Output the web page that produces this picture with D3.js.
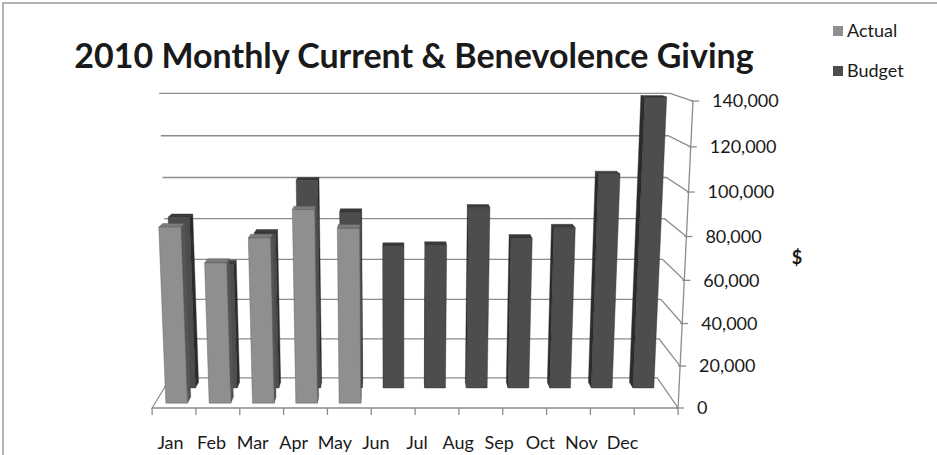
<!DOCTYPE html>
<html>
<head>
<meta charset="utf-8">
<script src="https://cdn.jsdelivr.net/npm/d3@7"></script>
<style>
  body { margin: 0; background: #fff; }
  text { font-family: Lato, "Open Sans", sans-serif; fill: #1a1a1a; }
</style>
</head>
<body>
<div id="chart"></div>
<script>
const months = ['Jan', 'Feb', 'Mar', 'Apr', 'May', 'Jun', 'Jul', 'Aug', 'Sep', 'Oct', 'Nov', 'Dec'];
const seriesNames = ['Actual', 'Budget'];
const actual = [83000, 66500, 78000, 91000, 82500];
const budget = [83500, 61000, 76000, 101000, 86000, 69500, 70000, 88000, 73500, 78500, 104000, 139500];
const valueTicks = [0, 20000, 40000, 60000, 80000, 100000, 120000, 140000];

const width = 937;
const height = 455;

const svg = d3.select('#chart')
  .append('svg')
  .attr('width', width)
  .attr('height', height);

// world space: X = category units, Y = thousands of $, Z = depth (0 front, 1 back wall)
const x = d3.scaleBand().domain(months).range([0, 12]).paddingInner(0.5).paddingOuter(0.25);
const y = d3.scaleLinear().domain([0, 140000]).range([0, 140]);
const z = d3.scaleBand().domain(seriesNames).range([0, 1]).paddingInner(0.6).paddingOuter(0.3);

// perspective camera, fitted by eye to the picture
const cam = { cx: 398, s: 43.83, xc: 5.61, pY: -0.000361, pZ: 0.08, a: 408, b: -2.229, c: 0.2 };
function proj(X, Y, Z) {
  const w = 1 + cam.pY * Y + cam.pZ * Z;
  return [cam.cx + cam.s * (X - cam.xc) / w, (cam.a + cam.b * Y + cam.c * Z) / w];
}
const line = pts => 'M' + pts.map(p => proj(...p).join(',')).join('L');
const poly = pts => line(pts) + 'Z';

// border of the chart area
svg.append('path').attr('d', `M3,${height}V3H${width}`)
  .attr('fill', 'none').attr('stroke', '#9a9a9a').attr('stroke-width', 1.5);

const grid = svg.append('g').attr('fill', 'none').attr('stroke', '#8c8c8c').attr('stroke-width', 1.3);

// back wall + right side wall gridlines
valueTicks.forEach(v => {
  const Y = y(v);
  grid.append('path').attr('d', line([[0, Y, 1], [12, Y, 1], [12, Y, 0]]));
});
// floor left edge and front axis
grid.append('path').attr('d', line([[0, 0, 1], [0, 0, 0], [12, 0, 0]]));
// value axis
grid.append('path').attr('d', line([[12, 0, 0], [12, 140, 0]]));
valueTicks.forEach(v => {
  const p = proj(12, y(v), 0);
  grid.append('path').attr('d', `M${p[0] - 2},${p[1]}h8`);
});
d3.range(13).forEach(i => {
  const p = proj(i, 0, 0);
  grid.append('path').attr('d', `M${p[0]},${p[1]}v7`);
});

// bars
const colors = {
  Actual: { front: '#8f8f8f', top: '#7c7c7c', side: '#555555' },
  Budget: { front: '#4d4d4d', top: '#3a3a3a', side: '#2c2c2c' }
};
const bars = [];
budget.forEach((v, i) => bars.push({ s: 'Budget', m: months[i], v }));
actual.forEach((v, i) => bars.push({ s: 'Actual', m: months[i], v }));

const barG = svg.append('g');
seriesNames.slice().reverse().forEach(s => {
  bars.filter(d => d.s === s)
    .sort((a, b) => Math.abs(x(b.m) + 0.25 - cam.xc) - Math.abs(x(a.m) + 0.25 - cam.xc))
    .forEach(d => {
      const x0 = x(d.m), x1 = x0 + x.bandwidth();
      const z0 = z(d.s), z1 = z0 + z.bandwidth();
      const h = y(d.v);
      const c = colors[d.s];
      const g = barG.append('g').attr('stroke', c.side).attr('stroke-width', 0.4).attr('stroke-linejoin', 'round');
      const sx = x1 < cam.xc ? x1 : (x0 > cam.xc ? x0 : null);
      if (sx !== null) {
        g.append('path').attr('fill', c.side)
          .attr('d', poly([[sx, 0, z0], [sx, 0, z1], [sx, h, z1], [sx, h, z0]]));
      }
      g.append('path').attr('fill', c.top)
        .attr('d', poly([[x0, h, z0], [x1, h, z0], [x1, h, z1], [x0, h, z1]]));
      g.append('path').attr('fill', c.front)
        .attr('d', poly([[x0, 0, z0], [x1, 0, z0], [x1, h, z0], [x0, h, z0]]));
    });
});

// value labels
svg.append('g').selectAll('text')
  .data(valueTicks)
  .join('text')
  .attr('x', d => proj(12, y(d), 0)[0] + 19)
  .attr('y', d => proj(12, y(d), 0)[1])
  .attr('dy', '0.35em')
  .attr('font-size', 18)
  .text(d => d3.format(',')(d));

svg.append('text')
  .attr('x', 797).attr('y', 258).attr('dy', '0.35em')
  .attr('text-anchor', 'middle')
  .attr('font-size', 18).attr('font-weight', 'bold')
  .text('$');

// month labels
const labelX = d3.scalePoint().domain(months).range([170.5, 622.5]);
svg.append('g').selectAll('text')
  .data(months)
  .join('text')
  .attr('x', d => labelX(d))
  .attr('y', 443)
  .attr('dy', '0.35em')
  .attr('text-anchor', 'middle')
  .attr('font-size', 18)
  .text(d => d);

// title
svg.append('text')
  .attr('x', 414).attr('y', 68)
  .attr('text-anchor', 'middle')
  .attr('font-size', 34).attr('font-weight', 'bold')
  .attr('fill', '#000')
  .text('2010 Monthly Current & Benevolence Giving');

// legend
const legend = svg.append('g').selectAll('g')
  .data(seriesNames)
  .join('g')
  .attr('transform', (d, i) => `translate(833,${31 + i * 40})`);
legend.append('rect')
  .attr('y', -5).attr('width', 10).attr('height', 10)
  .attr('fill', d => colors[d].front);
legend.append('text')
  .attr('x', 14).attr('dy', '0.35em')
  .attr('font-size', 18)
  .text(d => d);
</script>
</body>
</html>
